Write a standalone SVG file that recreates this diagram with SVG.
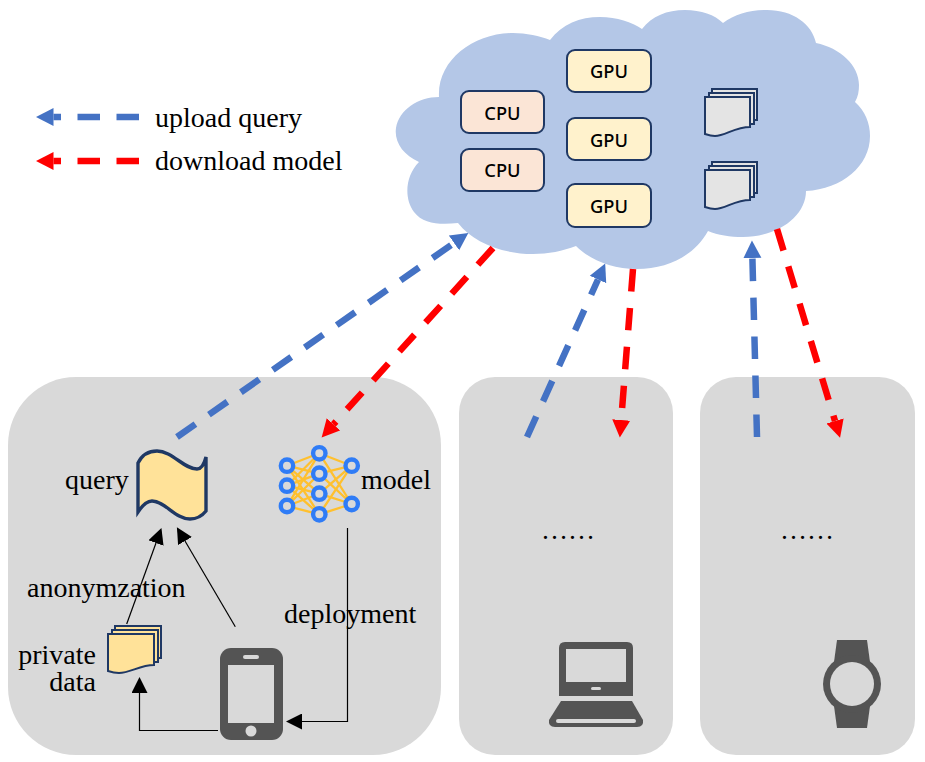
<svg xmlns="http://www.w3.org/2000/svg" width="925" height="762" viewBox="0 0 925 762">
<style>
text{font-family:"Liberation Serif","Times New Roman",serif;font-size:28px;fill:#000}
.chip{font-family:"Noto Sans","Liberation Sans",sans-serif;font-size:18.300px;font-weight:500;text-anchor:middle}
.panel{fill:#d9d9d9}
.box{stroke:#1f3864;stroke-width:2}
.cpu{fill:#fbe5d6}
.gpu{fill:#fff2cc}
.up{fill:none;stroke:#4472c4;stroke-width:6.500;stroke-dasharray:22.500 16.500}
.down{fill:none;stroke:#ff0000;stroke-width:6.500;stroke-dasharray:22.500 16.500}
.thin{fill:none;stroke:#000;stroke-width:1.200}
.doc{stroke:#1f3864;stroke-width:2}
.edge{stroke:#ffc02e;stroke-width:2.300;fill:none}
.neuron{fill:#d9d9d9;stroke:#2f7cf6;stroke-width:4.400}
.dev{fill:#545454}
.hole{fill:#d9d9d9}
</style>
<defs>
<marker id="hb" markerUnits="userSpaceOnUse" markerWidth="18" markerHeight="20" refX="0" refY="10" orient="auto"><path d="M0 1L17.500 10L0 19Z" fill="#4472c4"/></marker>
<marker id="hr" markerUnits="userSpaceOnUse" markerWidth="18" markerHeight="20" refX="0" refY="10" orient="auto"><path d="M0 1L17.500 10L0 19Z" fill="#ff0000"/></marker>
<marker id="hk" markerUnits="userSpaceOnUse" markerWidth="17" markerHeight="16" refX="0" refY="8" orient="auto"><path d="M0 0L16 8L0 16Z" fill="#000"/></marker>
</defs>

<g id="panel-1"><rect class="panel" x="8" y="377" width="433" height="378" rx="68"/></g>
<g id="panel-2"><rect class="panel" x="459" y="377" width="214" height="378" rx="36"/></g>
<g id="panel-3"><rect class="panel" x="700" y="377" width="215" height="378" rx="36"/></g>

<g id="cloud"><path fill="#b4c7e7" d="M458 223C440 225 423 224 414 212C404 199 405 176 419 162C403 155 394 142 396 128C399 110 418 97 439 97C437 60 474 33 513 33C526 33 540 36 550 40C562 24 580 17 600 17C617 17 632 22 642 29C652 16 667 10 685 10C701 10 715 15 723 23C735 14 750 10 767 10C793 10 812 24 816 43C840 48 859 65 859 85C859 91 858 97 855 102C865 111 870 123 870 136C870 166 842 189 806 191C806 216 778 237 743 237C730 237 718 235 708 231C695 255 668 269 637 269C612 269 590 260 576 246C563 251 548 254 533 254C501 254 473 242 458 223Z"/></g>

<g id="cpu-1"><rect class="box cpu" x="461" y="91" width="83" height="42" rx="8"/><text class="chip" x="502.500" y="120">CPU</text></g>
<g id="cpu-2"><rect class="box cpu" x="461" y="149" width="83" height="42" rx="8"/><text class="chip" x="502.500" y="177">CPU</text></g>
<g id="gpu-1"><rect class="box gpu" x="567" y="50" width="84" height="42" rx="8"/><text class="chip" x="609" y="78">GPU</text></g>
<g id="gpu-2"><rect class="box gpu" x="567" y="118" width="84" height="42" rx="8"/><text class="chip" x="609" y="147">GPU</text></g>
<g id="gpu-3"><rect class="box gpu" x="567" y="184" width="84" height="43" rx="8"/><text class="chip" x="609" y="213">GPU</text></g>

<g id="doc-1" class="doc" fill="#e4e4e4">
<rect x="712" y="89" width="45" height="31"/>
<rect x="709" y="93" width="45" height="31"/>
<path d="M705 97H750V127C735 127 725 136 715 136C711 136 708 135 705 134Z"/>
</g>
<g id="doc-2" class="doc" fill="#e4e4e4">
<rect x="712" y="162" width="45" height="31"/>
<rect x="709" y="166" width="45" height="31"/>
<path d="M705 170H750V200C735 200 725 209 715 209C711 209 708 208 705 207Z"/>
</g>

<g id="query"><path fill="#ffe299" stroke="#1f3864" stroke-width="3.400" d="M138 463C143 453 150 451 157 451C172 451 184 469 197 469C201 469 204 465 206 457V511C202 516 197 519 190 519C175 519 165 501 152 501C147 501 142 506 138 512Z"/></g>

<g id="private-data" class="doc" fill="#ffe299">
<rect x="115" y="626" width="46" height="32"/>
<rect x="112" y="630" width="46" height="32"/>
<path d="M108 634H154V665C140 665 130 673 119 673C115 673 111 672 108 671Z"/>
</g>

<g id="model">
<g class="edge">
<path d="M287 465.700L319.300 453.300M287 465.700L319.300 473.700M287 465.700L319.300 493.700M287 465.700L319.300 514.300"/>
<path d="M287 485.700L319.300 453.300M287 485.700L319.300 473.700M287 485.700L319.300 493.700M287 485.700L319.300 514.300"/>
<path d="M287 506L319.300 453.300M287 506L319.300 473.700M287 506L319.300 493.700M287 506L319.300 514.300"/>
<path d="M319.300 453.300L351.700 465.700M319.300 473.700L351.700 465.700M319.300 493.700L351.700 465.700M319.300 514.300L351.700 465.700"/>
<path d="M319.300 453.300L351.700 504M319.300 473.700L351.700 504M319.300 493.700L351.700 504M319.300 514.300L351.700 504"/>
</g>
<circle class="neuron" cx="287" cy="465.700" r="6.200"/><circle class="neuron" cx="287" cy="485.700" r="6.200"/><circle class="neuron" cx="287" cy="506" r="6.200"/>
<circle class="neuron" cx="319.300" cy="453.300" r="6.200"/><circle class="neuron" cx="319.300" cy="473.700" r="6.200"/><circle class="neuron" cx="319.300" cy="493.700" r="6.200"/><circle class="neuron" cx="319.300" cy="514.300" r="6.200"/>
<circle class="neuron" cx="351.700" cy="465.700" r="6.200"/><circle class="neuron" cx="351.700" cy="504" r="6.200"/>
</g>

<g id="phone">
<rect class="dev" x="220" y="648" width="63" height="92" rx="11"/>
<rect class="hole" x="228" y="665" width="46" height="58"/>
<rect class="hole" x="243" y="655" width="16" height="4" rx="2"/>
<circle class="hole" cx="251" cy="731" r="5.500"/>
</g>

<g id="laptop">
<path class="dev" d="M565 642H627Q633 642 633 648V696H559V648Q559 642 565 642Z"/>
<rect class="hole" x="566" y="649" width="60" height="33"/>
<rect class="hole" x="591" y="687" width="10" height="3" rx="1.500"/>
<path class="dev" d="M561 701H632L643 720Q644 727 637 727H555Q548 727 549 720Z"/>
<rect class="hole" x="556" y="719" width="80" height="4" rx="2"/>
</g>

<g id="watch">
<path class="dev" d="M837 640H867L870 662V706L867 728H837L834 706V662Z"/>
<circle class="dev" cx="852" cy="684" r="29"/>
<circle class="hole" cx="852" cy="684" r="22"/>
</g>

<g id="connectors">
<path class="up" marker-end="url(#hb)" d="M177 437L454 243"/>
<path class="down" marker-end="url(#hr)" d="M493 248L333.400 424.400"/>
<path class="up" marker-end="url(#hb)" d="M527 437L598 279.500"/>
<path class="down" marker-end="url(#hr)" d="M633 269L621.200 420"/>
<path class="up" marker-end="url(#hb)" d="M757 437L752.400 258"/>
<path class="down" marker-end="url(#hr)" d="M777 229L835 421"/>
<path class="up" marker-end="url(#hb)" d="M139 117H53.500"/>
<path class="down" marker-end="url(#hr)" d="M139 161H53.500"/>
<path class="thin" marker-end="url(#hk)" d="M126.700 624L156 543"/>
<path class="thin" marker-end="url(#hk)" d="M235.300 626.700L185 541"/>
<path class="thin" marker-end="url(#hk)" d="M347.500 528V721.500H302"/>
<path class="thin" marker-end="url(#hk)" d="M218 730.500H139.500V693"/>
</g>

<g id="labels">
<text x="155" y="127">upload query</text>
<text x="155" y="170">download model</text>
<text x="65" y="489">query</text>
<text x="361" y="489">model</text>
<text x="27" y="597">anonymzation</text>
<text x="284" y="623">deployment</text>
<text text-anchor="end"><tspan x="96" y="664">private</tspan><tspan x="96" y="691">data</tspan></text>
<text x="541" y="539" style="font-size:27px">……</text>
<text x="780" y="539" style="font-size:27px">……</text>
</g>
</svg>
